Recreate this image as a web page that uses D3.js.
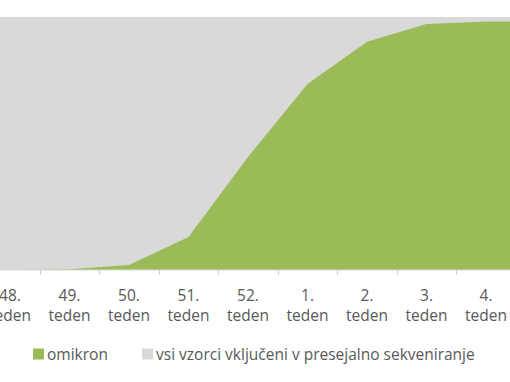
<!DOCTYPE html>
<html>
<head>
<meta charset="utf-8">
<script src="https://cdn.jsdelivr.net/npm/d3@7"></script>
<style>
  html, body { margin: 0; padding: 0; background: #fff; }
  svg { display: block; }
  text { font-family: "Open Sans", "Liberation Sans", sans-serif; fill: #595959; }
</style>
</head>
<body>
<svg id="chart" width="510" height="382"></svg>
<script>
const weeks = ["48.", "49.", "50.", "51.", "52.", "1.", "2.", "3.", "4."];
const weekWord = "teden";
const omikron = [0, 0.3, 2, 13, 44.7, 73.5, 90.2, 97.2, 98.2];
const allSamples = [100, 100, 100, 100, 100, 100, 100, 100, 100];
const seriesNames = ["omikron", "vsi vzorci vključeni v presejalno sekveniranje"];
const colors = ["#9bbb59", "#d9d9d9"];

const W = 510, H = 382;
const plot = { left: 0, right: 510, top: 17, bottom: 270 };
const svg = d3.select("#chart");

const step = 59.5;
const x = d3.scalePoint().domain(weeks).range([10, 10 + step * (weeks.length - 1)]);
const y = d3.scaleLinear().domain([0, 100]).range([plot.bottom, plot.top]);

function pts(vals) {
  const p = weeks.map((w, i) => ({ x: x(w), v: vals[i] }));
  p.unshift({ x: plot.left, v: vals[0] });
  p.push({ x: plot.right, v: vals[vals.length - 1] });
  return p;
}
const area = d3.area().x(d => d.x).y0(y(0)).y1(d => y(d.v));

svg.append("path").attr("d", area(pts(allSamples))).attr("fill", colors[1]);
svg.append("path").attr("d", area(pts(omikron))).attr("fill", colors[0]);

// axis
const axisG = svg.append("g").attr("transform", `translate(0,${plot.bottom})`);
axisG.append("line").attr("x1", plot.left).attr("x2", plot.right)
  .attr("stroke", "#d9d9d9").attr("stroke-width", 1);
weeks.slice(1).forEach((w, i) => {
  const tx = Math.round((x(weeks[i]) + x(w)) / 2) + 0.5;
  axisG.append("line").attr("x1", tx).attr("x2", tx).attr("y1", 0).attr("y2", 5)
    .attr("stroke", "#d0d0d0").attr("stroke-width", 1);
});
weeks.forEach(w => {
  const t = axisG.append("text").attr("text-anchor", "middle").attr("font-size", 15.5);
  t.append("tspan").attr("x", x(w)).attr("y", 31).text(w);
  t.append("tspan").attr("x", x(w)).attr("y", 51).text(weekWord);
});

// legend
const leg = svg.append("g").attr("transform", "translate(0,354)");
const legX = [33, 142];
seriesNames.forEach((n, i) => {
  leg.append("rect").attr("x", legX[i]).attr("y", -5.5).attr("width", 11).attr("height", 11).attr("fill", colors[i]);
  leg.append("text").attr("x", legX[i] + 14).attr("y", 5.5).attr("font-size", 15.5).text(n);
});
</script>
</body>
</html>
